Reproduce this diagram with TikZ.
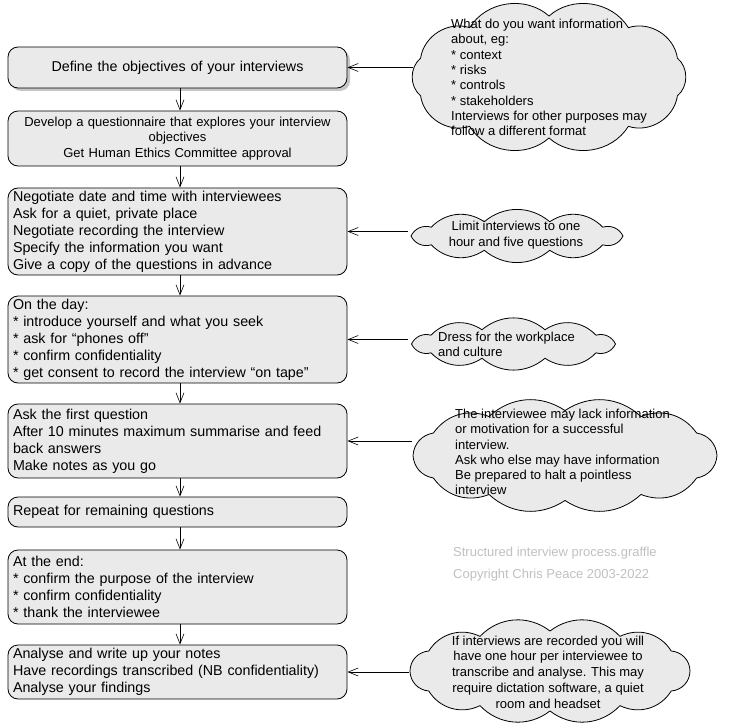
\documentclass[tikz,border=0pt]{standalone}
\usepackage{fontspec}
\setmainfont{Liberation Sans}
\usetikzlibrary{arrows.meta,shadows}
\definecolor{boxfill}{RGB}{234,234,234}
\definecolor{copygray}{RGB}{192,192,192}
% #1 cx, #2 cy, #3 inner a, #4 inner b, #5 puffs, #6 bend, #7 start angle
\newcommand\drawmycloud[7]{%
  \draw[cloudline] ({#1+#3*cos(#7)},{#2+#4*sin(#7)}) \foreach \k in {1,...,#5} { to[bend left=#6] ({#1+#3*cos(#7+\k*360/#5)},{#2+#4*sin(#7+\k*360/#5)}) } -- cycle;}
\begin{document}
\begin{tikzpicture}[x=1pt,y=-1pt,
 proc/.style={draw=black, line width=0.8pt, rounded corners=10pt, fill=boxfill, minimum width=339pt, inner xsep=5pt, inner ysep=0pt},
 lproc/.style={proc, text width=329pt, align=left, font=\fontsize{14.3}{17}\selectfont},
 cproc/.style={proc, text width=329pt, align=center, font=\fontsize{13}{15.5}\selectfont},
 cloudline/.style={draw=black, line width=0.8pt, fill=boxfill},
 cloudtext/.style={font=\fontsize{13}{15.3}\selectfont, inner sep=0pt},
 arr/.style={-{Straight Barb[length=10pt,width=8pt]}, line width=0.6pt},
]
\useasboundingbox (0,0) rectangle (734,725);
% process boxes
\node[cproc, minimum height=41pt, font=\fontsize{14.3}{17}\selectfont, drop shadow={shadow xshift=3pt, shadow yshift=-3pt, opacity=0.45}] (b1) at (177.5,67.5) {Define the objectives of your interviews};
\node[cproc, minimum height=55pt] (b2) at (177.5,138.5) {Develop a questionnaire that explores your interview\\objectives\\Get Human Ethics Committee approval};
\node[lproc, minimum height=87pt] (b3) at (177.5,231.5) {Negotiate date and time with interviewees\\Ask for a quiet, private place\\Negotiate recording the interview\\Specify the information you want\\Give a copy of the questions in advance};
\node[lproc, minimum height=87pt] (b4) at (177.5,339.5) {On the day:\\{*} introduce yourself and what you seek\\{*} ask for ``phones off''\\{*} confirm confidentiality\\{*} get consent to record the interview ``on tape''};
\node[lproc, minimum height=74pt] (b5) at (177.5,441) {Ask the first question\\After 10 minutes maximum summarise and feed\\back answers\\Make notes as you go};
\node[lproc, minimum height=30pt] (b6) at (177.5,512) {Repeat for remaining questions};
\node[lproc, minimum height=74pt] (b7) at (177.5,587) {At the end:\\{*} confirm the purpose of the interview\\{*} confirm confidentiality\\{*} thank the interviewee};
\node[lproc, minimum height=54pt] (b8) at (177.5,672) {Analyse and write up your notes\\Have recordings transcribed (NB confidentiality)\\Analyse your findings};
% vertical arrows
\foreach \a/\b in {b1/b2,b2/b3,b3/b4,b4/b5,b5/b6,b6/b7,b7/b8}
  \draw[arr] ([xshift=2.5pt]\a.south) -- ([xshift=2.5pt]\b.north);
% clouds
\drawmycloud{549}{77}{135}{61}{10}{50}{18}
\drawmycloud{517}{236}{106}{15}{10}{40}{0}
\drawmycloud{513.5}{344}{102}{15}{10}{40}{0}
\drawmycloud{565}{455.5}{152}{45}{12}{38}{0}
\drawmycloud{550}{671}{140}{40}{12}{42}{0}
\coordinate (c1) at (413,77);
\coordinate (c2) at (408,236);
\coordinate (c3) at (408,344);
\coordinate (c4) at (412,455);
\coordinate (c5) at (409,671);
% cloud texts
\node[cloudtext, anchor=west, align=left] (t1) at (451,77.5) {What do you want information\\about, eg:\\{*} context\\{*} risks\\{*} controls\\{*} stakeholders\\Interviews for other purposes may\\follow a different format};
\node[cloudtext, align=center] (t2) at (516,235) {Limit interviews to one\\hour and five questions};
\node[cloudtext, anchor=west, align=left] (t3) at (438,344.5) {Dress for the workplace\\and culture};
\node[cloudtext, anchor=west, align=left] (t4) at (455,452) {The interviewee may lack information\\or motivation for a successful\\interview.\\Ask who else may have information\\Be prepared to halt a pointless\\interview};
\node[cloudtext, align=center, font=\fontsize{13}{15.75}\selectfont] (t5) at (548,672) {If interviews are recorded you will\\have one hour per interviewee to\\transcribe and analyse. This may\\require dictation software, a quiet\\room and headset};
% cloud connectors
\draw[arr] (c1 |- b1.east) -- (b1.east);
\draw[arr] (c2 |- b3.east) -- (b3.east);
\draw[arr] (c3 |- b4.east) -- (b4.east);
\draw[arr] (c4 |- b5.east) -- (b5.east);
\draw[arr] (c5 |- b8.east) -- (b8.east);
% copyright
\node[anchor=west, inner sep=0pt, text=copygray, font=\fontsize{13}{15}\selectfont] (cp1) at (453,553) {Structured interview process.graffle};
\node[anchor=west, inner sep=0pt, text=copygray, font=\fontsize{13}{15}\selectfont] (cp2) at (453,575) {Copyright Chris Peace 2003-2022};
\end{tikzpicture}
\end{document}
